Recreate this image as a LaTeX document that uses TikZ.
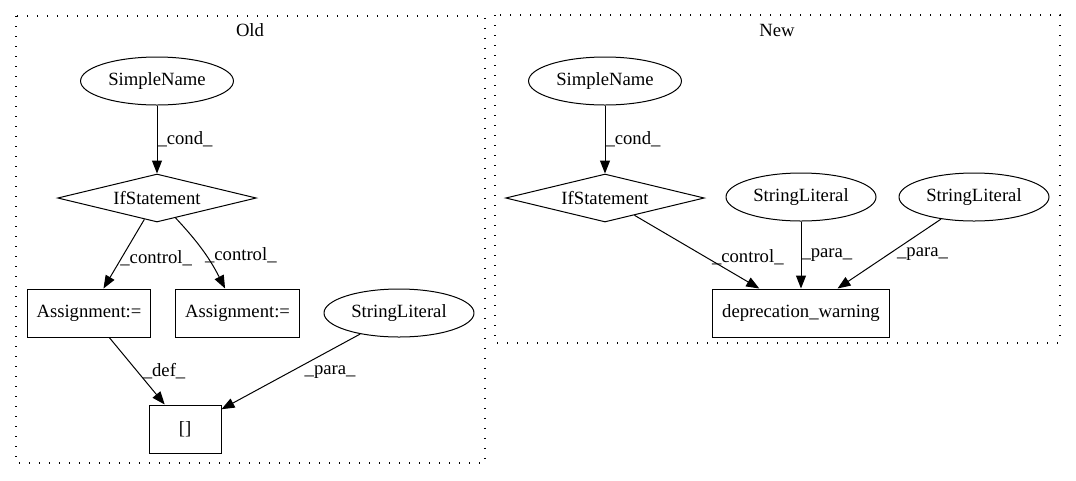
\documentclass[tikz,border=0pt]{standalone}
\usepackage{fontspec}
\setmainfont{Liberation Serif}
\usetikzlibrary{positioning, shapes, arrows.meta}
\tikzset{>={Triangle[length=9.75pt, width=7.5pt]}}

\begin{document}
\begin{tikzpicture}
    [x=0.75pt, y=-0.75pt, line width=0.75pt, node distance=51pt,
     every node/.style={font=\fontsize{14pt}{16pt}\selectfont},
     ell/.style={draw, ellipse, inner xsep=4pt, inner ysep=0pt, minimum height=36pt},
     dia/.style={draw, diamond, shape aspect=3, inner sep=0pt, minimum width=149pt, minimum height=36pt},
     box/.style={draw, rectangle, inner xsep=7pt, minimum width=54pt, minimum height=36pt},
     lbl/.style={inner sep=0pt},
     cluster/.style={line width=0.9pt, dash pattern=on 0.9pt off 6.6pt}]
    \useasboundingbox (0,0) rectangle (1076,480);

    % Old
    \draw[cluster] (16,16) rectangle (485,463);
    \node (oldtitle) at (250,30) {Old};

    \node[ell] (oldname) at (157,81) {SimpleName};
    \node[dia, below= of oldname] (oldif) {IfStatement};
    \node[box] (oldasg1) at (89,313) {Assignment:=};
    \node[box, right=18pt of oldasg1] (oldasg2) {Assignment:=};
    \node[ell] (oldstr) at (399,313) {StringLiteral};
    \node[box] (oldidx) at (185,429) {[]};

    \draw[->] (oldname) -- node[lbl, right] {\_cond\_} (oldif);
    \draw[->] (oldif) -- node[lbl, anchor=west, xshift=-3pt, yshift=-3pt] {\_control\_} (oldasg1);
    \draw[->] (oldif) to[bend left=8] node[lbl, anchor=west, xshift=1pt, yshift=-3pt] {\_control\_} (oldasg2);
    \draw[->] (oldasg1) -- node[lbl, right=4pt] {\_def\_} (oldidx);
    \draw[->] (oldstr) -- node[lbl, right=10pt] {\_para\_} (oldidx);

    % New
    \draw[cluster] (495,15) rectangle (1060,343);
    \node (newtitle) at (777,30) {New};

    \node[ell] (newname) at (605,81) {SimpleName};
    \node[dia, below= of newname] (newif) {IfStatement};
    \node[ell] (newstr1) at (801,197) {StringLiteral};
    \node[ell] (newstr2) at (974,197) {StringLiteral};
    \node[box] (newdep) at (801,313) {deprecation\_warning};

    \draw[->] (newname) -- node[lbl, right] {\_cond\_} (newif);
    \draw[->] (newif) -- node[lbl, anchor=west, xshift=11pt, yshift=-4pt] {\_control\_} (newdep);
    \draw[->] (newstr1) -- node[lbl, right] {\_para\_} (newdep);
    \draw[->] (newstr2) -- node[lbl, right=5.5pt] {\_para\_} (newdep);
  \end{tikzpicture}
\end{document}
